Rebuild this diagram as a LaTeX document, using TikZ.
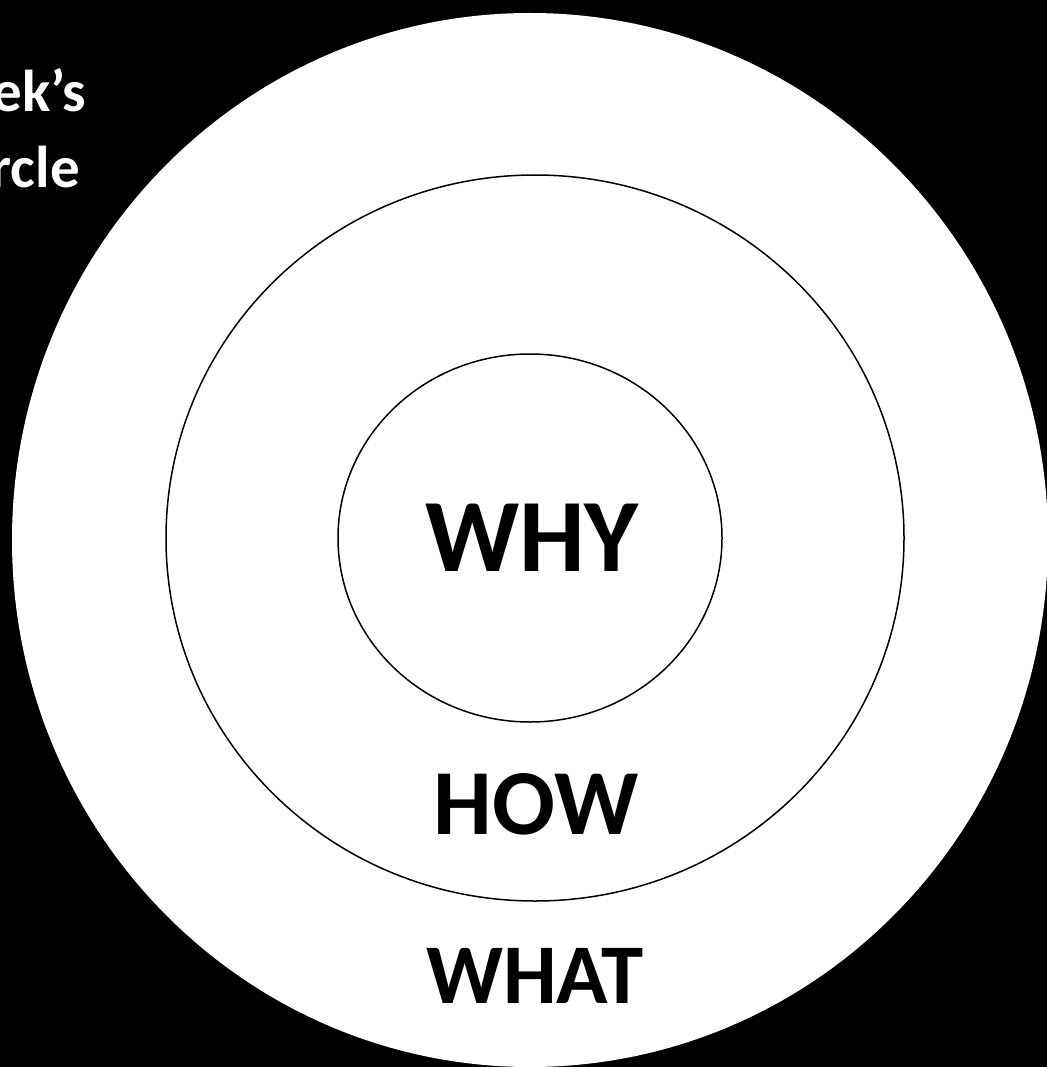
\documentclass[tikz,border=0pt]{standalone}
\usepackage{fontspec}
\setmainfont{Carlito}
\usepackage{tikz}
\usetikzlibrary{shapes.geometric}
\usetikzlibrary{positioning}

\begin{document}
\begin{tikzpicture}[
			x=1pt, y=-1pt,
			ring/.style={
					ellipse,
					fill=white,
					draw=black,
					line width=1.5pt,
					inner sep=0pt
				},
			word/.style={
					anchor=base,
					inner sep=0pt,
					font=\bfseries
				}
		]
		% page and black ground
		\useasboundingbox (0, 0) rectangle (1047, 1067);
		\fill[black] (0, 0) rectangle (1047, 1067);

		\node[ring, draw=none, minimum width=1036pt, minimum height=1054pt] (whatring) at (530, 540) {};
		\node[ring, minimum width=738pt, minimum height=726pt] (howring) at (535, 538) {};
		\node[ring, minimum width=384pt, minimum height=368pt] (whyring) at (530, 538) {};

		\node[word, font=\bfseries\fontsize{104}{110}\selectfont] (why) at (532, 571) {WHY};
		\node[word, font=\bfseries\fontsize{93}{100}\selectfont] (how) at (536, 834) {HOW};
		\node[word, font=\bfseries\fontsize{85}{90}\selectfont] (what) at (535, 1003) {WHAT};

		% title, cut off by the page edge
		\node[word, anchor=base east, text=white, font=\bfseries\fontsize{59}{72}\selectfont] (title1) at (86, 112) {ek’s};
		\node[word, anchor=base east, text=white, font=\bfseries\fontsize{59}{72}\selectfont] (title2) at (80, 188) {rcle};
	\end{tikzpicture}
\end{document}
